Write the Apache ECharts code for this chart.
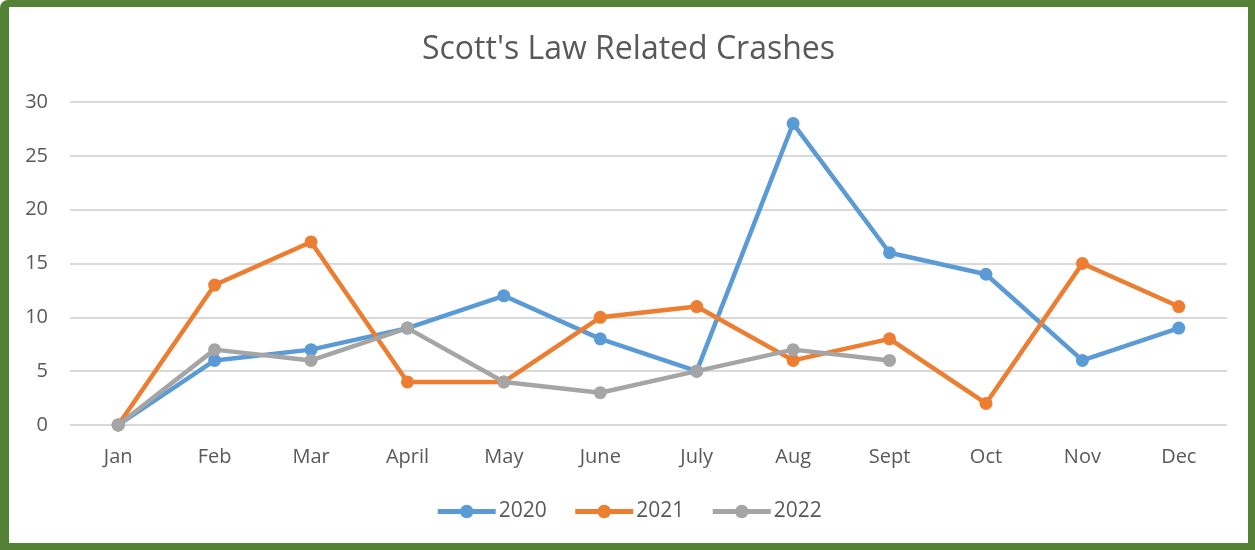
<!DOCTYPE html>
<html><head><meta charset="utf-8">
<script src="https://cdn.jsdelivr.net/npm/echarts@6/dist/echarts.min.js"></script>
<style>
html,body{margin:0;padding:0;background:#fff;}
#c{position:absolute;left:0;top:0;width:1255px;height:550px;box-sizing:border-box;border:7px solid #548235;border-left-width:9px;border-radius:8px 0 0 0;}
</style></head><body>
<div id="c"></div>
<script>
const categories = ['Jan','Feb','Mar','April','May','June','July','Aug','Sept','Oct','Nov','Dec'];
const s2020 = [0,6,7,9,12,8,5,28,16,14,6,9];
const s2021 = [0,13,17,4,4,10,11,6,8,2,15,11];
const s2022 = [0,7,6,9,4,3,5,7,6,null,null,null];
const yTicks = {min:0, max:30, interval:5};

const chart = echarts.init(document.getElementById('c'), null, {renderer:'canvas'});
const font = '"Open Sans", "Noto Sans", sans-serif';
function mk(name, data, color){
  return {name, type:'line', data, symbol:'circle', symbolSize:13,
    lineStyle:{width:4.5, color}, itemStyle:{color}, connectNulls:false, z:2};
}
chart.setOption({
  animation:false,
  title:{text:"Scott's Law Related Crashes", left:'center', top:22,
    textStyle:{fontFamily:font, fontSize:32, fontWeight:'normal', color:'#595959'}},
  grid:{left:61, right:21, top:95, bottom:118},
  legend:{bottom:16, left:'center', itemWidth:58, itemHeight:17, itemGap:26,
    lineStyle:{width:5},
    textStyle:{fontFamily:font, fontSize:21, color:'#595959', padding:[0,0,0,-2]},
    data:['2020','2021','2022']},
  xAxis:{type:'category', data:categories, boundaryGap:true,
    axisLine:{show:false}, axisTick:{show:false},
    axisLabel:{fontFamily:font, fontSize:20, color:'#595959', margin:22}},
  yAxis:{type:'value', min:yTicks.min, max:yTicks.max, interval:yTicks.interval,
    axisLine:{show:false}, axisTick:{show:false},
    axisLabel:{fontFamily:font, fontSize:20, color:'#595959', margin:22},
    splitLine:{lineStyle:{color:'#d9d9d9', width:2}}},
  series:[mk('2020', s2020, '#5B9BD5'), mk('2021', s2021, '#ED7D31'), mk('2022', s2022, '#A5A5A5')]
});
</script></body></html>
